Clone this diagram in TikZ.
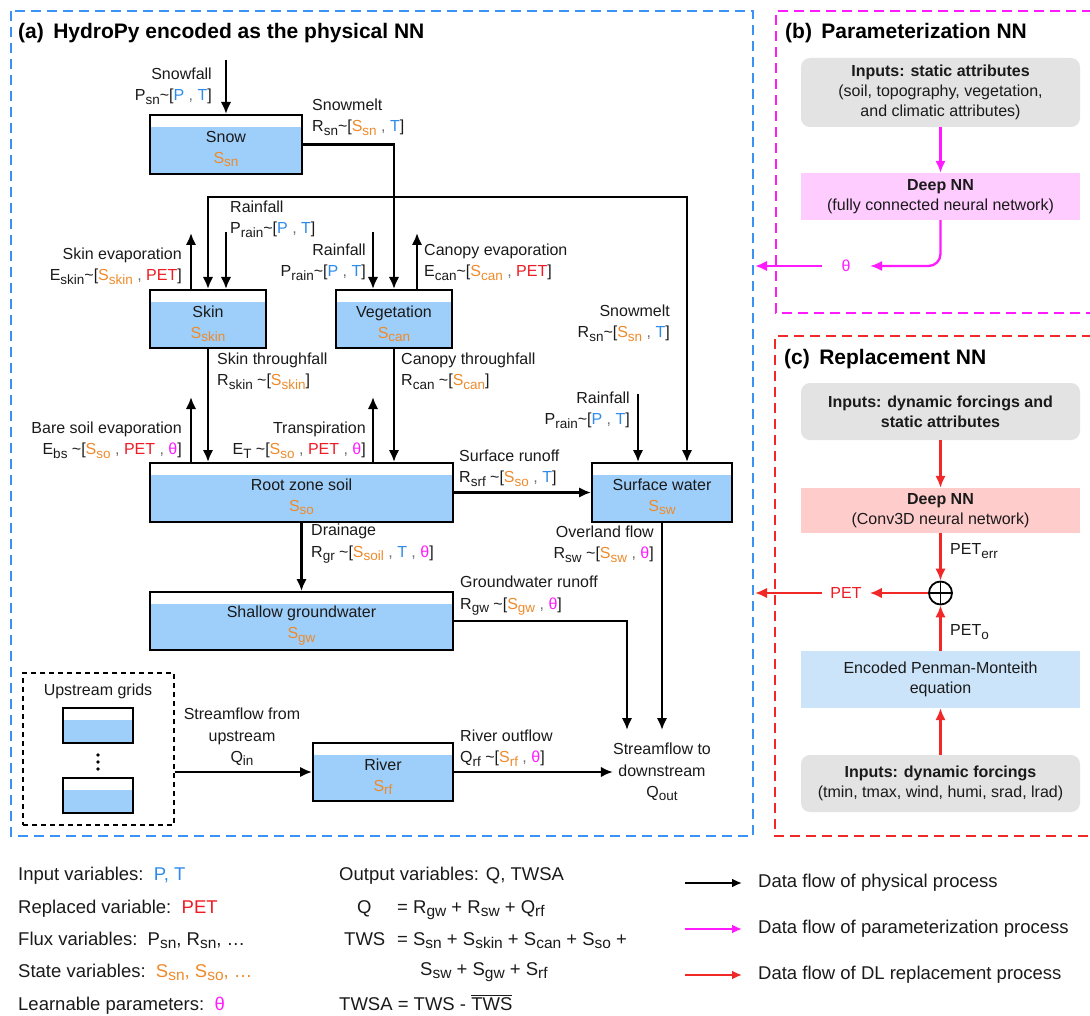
\documentclass[tikz,border=0pt]{standalone}
\usepackage{fontspec}
\setmainfont{Liberation Sans}
\usetikzlibrary{arrows.meta,calc}
\definecolor{txt}{HTML}{1A1A1A}
\definecolor{inb}{HTML}{2F8BEA}
\definecolor{stor}{HTML}{EE8A2A}
\definecolor{petr}{HTML}{EE1C25}
\definecolor{mag}{HTML}{FF1AFF}
\definecolor{dblue}{HTML}{3A92F5}
\definecolor{dred}{HTML}{F02828}
\definecolor{water}{HTML}{9ECEFA}
\definecolor{gbox}{HTML}{E3E3E3}
\definecolor{pbox}{HTML}{FFCCFF}
\definecolor{sbox}{HTML}{FFCCCC}
\definecolor{bbox}{HTML}{CCE4FA}
\newcommand\sbs[1]{\raisebox{-0.4ex}{\fontsize{13.5}{13.5}\selectfont #1}}
\newcommand\sbl[1]{\raisebox{-0.4ex}{\fontsize{15.5}{15.5}\selectfont #1}}
\newcommand\tl{\textasciitilde}
\newcommand\cS[1]{\textcolor{stor}{S\sbs{#1}}}
\newcommand\cP{\textcolor{inb}{P}}
\newcommand\cT{\textcolor{inb}{T}}
\newcommand\cPET{\textcolor{petr}{PET}}
\newcommand\cth{\textcolor{mag}{θ}}
\newcommand\cm{\textcolor{black!55}{,}}
\begin{document}
\begin{tikzpicture}[x=1pt,y=-1pt,
  lbl/.style={font=\fontsize{16}{21.5}\selectfont, inner sep=0pt, text=txt},
  leg/.style={font=\fontsize{18.5}{22}\selectfont, inner sep=0pt, text=txt},
  title/.style={font=\fontsize{21}{24}\selectfont\bfseries, inner sep=0pt, text=black},
  tank/.style={draw=black, line width=2pt, fill=white, inner sep=0pt,
    path picture={\fill[water] ([yshift=-12pt]path picture bounding box.north west) rectangle (path picture bounding box.south east);}},
  tanktext/.style={font=\fontsize{16}{21}\selectfont, align=center, text=txt, inner sep=0pt, yshift=-4.5pt},
  nnbox/.style={minimum width=279pt, align=center, inner sep=0pt, font=\fontsize{16}{20}\selectfont, text=txt},
  arr/.style={line width=2.3pt, draw=black, -{Latex[length=12pt,width=10.5pt]}},
  marr/.style={line width=2.3pt, draw=mag, -{Latex[length=12pt,width=10.5pt]}},
  rarr/.style={line width=2.3pt, draw=dred, -{Latex[length=12pt,width=10.5pt]}},
  larr/.style={line width=2.1pt, -{Latex[length=10pt,width=9pt]}},
  panel/.style={line width=2.2pt, dash pattern=on 10pt off 6pt}
]
\useasboundingbox (0,0) rectangle (1090,1016);

% panels
\draw[panel, draw=dblue] (11,11) rectangle (753,836);
\draw[panel, draw=mag] (1092,11) -- (776,11) -- (776,313) -- (1092,313);
\draw[panel, draw=dred] (1092,336) -- (775,336) -- (775,836) -- (1092,836);

\node[title, anchor=west] (ta) at (18,33) {(a)\hspace{0.45em}HydroPy encoded as the physical NN};
\node[title, anchor=west] (tb) at (785,33) {(b)\hspace{0.45em}Parameterization NN};
\node[title, anchor=west] (tc) at (784,359) {(c)\hspace{0.45em}Replacement NN};

% tanks
\node[tank, minimum width=152pt, minimum height=59pt, label={[tanktext]center:{Snow\\\cS{sn}}}] (snow) at (226,144.5) {};
\node[tank, minimum width=116pt, minimum height=58pt, label={[tanktext]center:{Skin\\\cS{skin}}}] (skin) at (208,319) {};
\node[tank, minimum width=116pt, minimum height=58pt, label={[tanktext]center:{Vegetation\\\cS{can}}}] (veg) at (394,319) {};
\node[tank, minimum width=303pt, minimum height=59pt, label={[tanktext]center:{Root zone soil\\\cS{so}}}] (root) at (301.5,492.5) {};
\node[tank, minimum width=140pt, minimum height=59pt, label={[tanktext]center:{Surface water\\\cS{sw}}}] (sw) at (662,492.5) {};
\node[tank, minimum width=303pt, minimum height=58pt, label={[tanktext]center:{Shallow groundwater\\\cS{gw}}}] (gw) at (301.5,621) {};
\node[tank, minimum width=140pt, minimum height=58pt, label={[tanktext]center:{River\\\cS{rf}}}] (river) at (383,772) {};

% upstream grids
\node[draw=black, line width=1.4pt, dash pattern=on 5pt off 4pt, minimum width=151pt, minimum height=152pt, inner sep=0pt] (up) at (98.5,749) {};
\node[lbl] (upt) at (98,691) {Upstream grids};
\node[tank, line width=1.5pt, minimum width=70pt, minimum height=35pt] (ut1) at (98,725.5) {};
\node[tank, line width=1.5pt, minimum width=70pt, minimum height=35pt] (ut2) at (98,795.5) {};
\fill[black] (98,755) circle (1.8) (98,762) circle (1.8) (98,769) circle (1.8);

% labels panel a
\node[lbl, align=right, anchor=east] (l1) at (212,86) {Snowfall\\P\sbs{sn}\tl[\cP{} \cm{} \cT]};
\node[lbl, align=left, anchor=west] (l2) at (312,117) {Snowmelt\\R\sbs{sn}\tl[\cS{sn} \cm{} \cT]};
\node[lbl, align=right, anchor=east] (l3) at (182,266) {Skin evaporation\\E\sbs{skin}\tl[\cS{skin} \cm{} \cPET]};
\node[lbl, align=left, anchor=west] (l4) at (230,219) {Rainfall\\P\sbs{rain}\tl[\cP{} \cm{} \cT]};
\node[lbl, align=right, anchor=east] (l5) at (366,262) {Rainfall\\P\sbs{rain}\tl[\cP{} \cm{} \cT]};
\node[lbl, align=left, anchor=west] (l6) at (424,262) {Canopy evaporation\\E\sbs{can}\tl[\cS{can} \cm{} \cPET]};
\node[lbl, align=right, anchor=east] (l7) at (670,323) {Snowmelt\\R\sbs{sn}\tl[\cS{sn} \cm{} \cT]};
\node[lbl, align=left, anchor=west] (l8) at (217,371) {Skin throughfall\\R\sbs{skin} \tl[\cS{skin}]};
\node[lbl, align=left, anchor=west] (l9) at (401,371) {Canopy throughfall\\R\sbs{can} \tl[\cS{can}]};
\node[lbl, align=right, anchor=east] (l10) at (182,440) {Bare soil evaporation\\E\sbs{bs} \tl[\cS{so} \cm{} \cPET{} \cm{} \cth]};
\node[lbl, align=right, anchor=east] (l11) at (366,440) {Transpiration\\E\sbs{T} \tl[\cS{so} \cm{} \cPET{} \cm{} \cth]};
\node[lbl, align=right, anchor=east] (l12) at (630,410) {Rainfall\\P\sbs{rain}\tl[\cP{} \cm{} \cT]};
\node[lbl, align=left, anchor=west] (l13) at (459,468) {Surface runoff\\R\sbs{srf} \tl[\cS{so} \cm{} \cT]};
\node[lbl, align=left, anchor=west] (l14) at (311,544) {Drainage\\R\sbs{gr} \tl[\cS{soil} \cm{} \cT{} \cm{} \cth]};
\node[lbl, align=right, anchor=east] (l15) at (654,544) {Overland flow\\R\sbs{sw} \tl[\cS{sw} \cm{} \cth]};
\node[lbl, align=left, anchor=west] (l16) at (460,596) {Groundwater runoff\\R\sbs{gw} \tl[\cS{gw} \cm{} \cth]};
\node[lbl, align=left, anchor=west] (l17) at (460,748) {River outflow\\Q\sbs{rf} \tl[\cS{rf} \cm{} \cth]};
\node[lbl, align=center] (l18) at (242,737) {Streamflow from\\upstream\\Q\sbs{in}};
\node[lbl, align=center] (qout) at (662,772) {Streamflow to\\downstream\\Q\sbs{out}};

% free ends
\coordinate (sf) at (226,60);
\coordinate (j1) at (394,197);
\coordinate (sevap) at (191,233);
\coordinate (srain) at (226,232);
\coordinate (vrain) at (373,232);
\coordinate (vevap) at (417,233);
\coordinate (ebs) at (191,397);
\coordinate (et) at (373,397);
\coordinate (rsw) at (638,394);
\coordinate (gwend) at (627,730);
\coordinate (owend) at (662,730);

% connectors panel a
\draw[arr] (sf) -- (snow.north);
\draw[arr] (snow.east) -| (veg.north);
\draw[arr] (j1) -| (skin.north);
\draw[arr] (j1) -| ([xshift=25pt]sw.north);
\draw[arr] (sevap |- skin.north) -- (sevap);
\draw[arr] (srain) -- (srain |- skin.north);
\draw[arr] (vrain) -- (vrain |- veg.north);
\draw[arr] (vevap |- veg.north) -- (vevap);
\draw[arr] (skin.south) -- (skin.south |- root.north);
\draw[arr] (veg.south) -- (veg.south |- root.north);
\draw[arr] (ebs |- root.north) -- (ebs);
\draw[arr] (et |- root.north) -- (et);
\draw[arr] (rsw) -- (rsw |- sw.north);
\draw[arr] (root.east) -- (sw.west);
\draw[arr] (root.south) -- (gw.north);
\draw[arr] (gw.east) -| (gwend);
\draw[arr] (sw.south) -- (owend);
\draw[arr] (river.east) -- (qout.west |- river.east);
\draw[arr] (up.east |- river.west) -- (river.west);

% panel b
\node[nnbox, fill=gbox, rounded corners=9pt, minimum height=69pt] (sin) at (940.5,92.5) {\textbf{Inputs: static attributes}\\(soil, topography, vegetation,\\and climatic attributes)};
\node[nnbox, fill=pbox, minimum height=47pt] (dnn1) at (940.5,196.5) {\textbf{Deep NN}\\(fully connected neural network)};
\node[lbl, text=mag, inner xsep=19.5pt] (th) at (846,266) {θ};
\coordinate (bl1) at (755,266);
\draw[marr] (sin) -- (dnn1);
\draw[marr, rounded corners=12pt] (dnn1.south) |- (th.east);
\draw[marr] (th.west) -- (bl1);

% panel c
\node[nnbox, fill=gbox, rounded corners=9pt, minimum height=57pt] (din) at (940.5,411.5) {\textbf{Inputs: dynamic forcings and}\\\textbf{static attributes}};
\node[nnbox, fill=sbox, minimum height=45pt] (dnn2) at (940.5,510.5) {\textbf{Deep NN}\\(Conv3D neural network)};
\node[draw=black, circle, line width=1.8pt, minimum size=23pt, inner sep=0pt,
  path picture={\draw[line width=1.8pt] (path picture bounding box.north) -- (path picture bounding box.south) (path picture bounding box.west) -- (path picture bounding box.east);}] (plus) at (940.5,593) {};
\node[nnbox, fill=bbox, minimum height=57pt] (pm) at (940.5,679.5) {Encoded Penman-Monteith\\equation};
\node[nnbox, fill=gbox, rounded corners=9pt, minimum height=57pt] (dfin) at (940.5,783.5) {\textbf{Inputs: dynamic forcings}\\(tmin, tmax, wind, humi, srad, lrad)};
\node[lbl, anchor=west] (perr) at (950,551) {PET\sbs{err}};
\node[lbl, anchor=west] (po) at (950,632) {PET\sbs{o}};
\node[lbl, text=petr, inner xsep=8pt] (pet) at (846,593) {PET};
\coordinate (bl2) at (755,593);
\draw[rarr] (din) -- (dnn2);
\draw[rarr] (dnn2) -- (plus);
\draw[rarr] (pm) -- (plus);
\draw[rarr] (dfin) -- (pm);
\draw[rarr] (plus) -- (pet.east);
\draw[rarr] (pet.west) -- (bl2);

% legend left
\node[leg, anchor=base west] (g1) at (18,880) {Input variables:\ \ \textcolor{inb}{P, T}};
\node[leg, anchor=base west] (g2) at (18,913) {Replaced variable:\ \ \textcolor{petr}{PET}};
\node[leg, anchor=base west] (g3) at (18,945) {Flux variables:\ \ P\sbl{sn}, R\sbl{sn}, …};
\node[leg, anchor=base west] (g4) at (18,977) {State variables:\ \ \textcolor{stor}{S\sbl{sn}, S\sbl{so}, …}};
\node[leg, anchor=base west] (g5) at (18,1010) {Learnable parameters:\ \ \textcolor{mag}{θ}};
% legend middle
\node[leg, anchor=base west] (o1) at (339,880) {Output variables: Q, TWSA};
\node[leg, anchor=base west] (o2a) at (357,913) {Q};
\node[leg, anchor=base west] (o2b) at (397,913) {= R\sbl{gw} + R\sbl{sw} + Q\sbl{rf}};
\node[leg, anchor=base west] (o3a) at (344,945) {TWS};
\node[leg, anchor=base west] (o3b) at (397,945) {= S\sbl{sn} + S\sbl{skin} + S\sbl{can} + S\sbl{so} +};
\node[leg, anchor=base west] (o4) at (420,975) {S\sbl{sw} + S\sbl{gw} + S\sbl{rf}};
\node[leg, anchor=base west] (o5) at (339,1010) {TWSA = TWS - $\overline{\hbox{TWS}}$};
% legend right
\node[leg, anchor=west] (r1) at (758,883) {Data flow of physical process};
\node[leg, anchor=west] (r2) at (758,929) {Data flow of parameterization process};
\node[leg, anchor=west] (r3) at (758,975) {Data flow of DL replacement process};
\coordinate (la1) at (685,883);
\coordinate (la2) at (685,929);
\coordinate (la3) at (685,975);
\draw[larr, draw=black] (la1) -- ([xshift=-16pt]r1.west);
\draw[larr, draw=mag] (la2) -- ([xshift=-16pt]r2.west);
\draw[larr, draw=dred] (la3) -- ([xshift=-16pt]r3.west);
\end{tikzpicture}
\end{document}
